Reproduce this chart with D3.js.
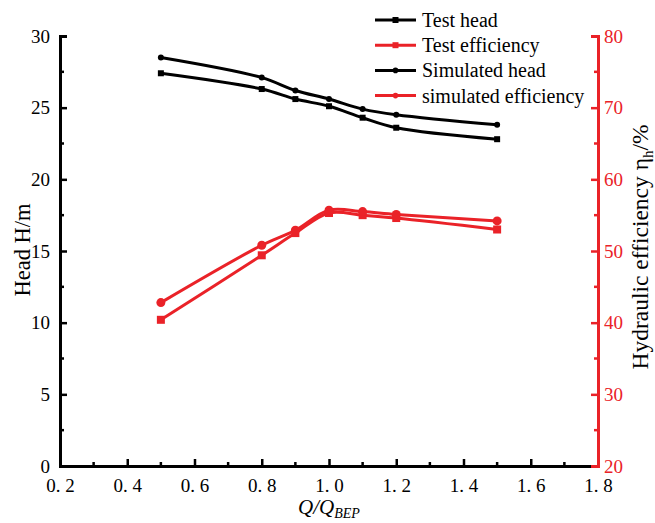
<!DOCTYPE html>
<html>
<head>
<meta charset="utf-8">
<script src="https://cdn.jsdelivr.net/npm/d3@7"></script>
<style>
  body { margin: 0; background: #fff; }
  text { font-family: "Liberation Serif", "Times New Roman", serif; }
</style>
</head>
<body>
<div id="chart"></div>
<script>
// flow ratio Q/Q_BEP
var flow = [0.5, 0.8, 0.9, 1.0, 1.1, 1.2, 1.5];
// head H/m
var test_head = [27.4, 26.3, 25.6, 25.1, 24.3, 23.6, 22.8];
var sim_head = [28.5, 27.1, 26.2, 25.6, 24.9, 24.5, 23.8];
// hydraulic efficiency %
var test_eff = [40.4, 49.4, 52.5, 55.3, 55.0, 54.6, 53.0];
var sim_eff = [42.8, 50.8, 52.9, 55.7, 55.5, 55.1, 54.2];

var x_ticks = [0.2, 0.4, 0.6, 0.8, 1.0, 1.2, 1.4, 1.6, 1.8];
var head_ticks = [0, 5, 10, 15, 20, 25, 30];
var eff_ticks = [20, 30, 40, 50, 60, 70, 80];

var legend_labels = ["Test head", "Test efficiency", "Simulated head", "simulated efficiency"];

var full_width = 655, full_height = 523;
var margin = {top: 36, right: 57, bottom: 57, left: 60};
var width = full_width - margin.left - margin.right,
    height = full_height - margin.top - margin.bottom;

var red = "#ea2228";

var svg = d3.select("#chart")
    .append("svg")
    .attr("width", full_width)
    .attr("height", full_height)
    .append("g")
    .attr("transform", "translate(" + margin.left + "," + margin.top + ")");

var x = d3.scaleLinear().domain([0.2, 1.8]).range([0, width]);
var yH = d3.scaleLinear().domain([0, 30]).range([height, 0]);
var yE = d3.scaleLinear().domain([20, 80]).range([height, 0]);

// minor ticks halfway between majors
function minors(major) {
    var out = [];
    for (var i = 0; i < major.length - 1; i++) out.push((major[i] + major[i + 1]) / 2);
    return out;
}

function styleAxis(g, color) {
    g.select(".domain").attr("stroke", color).attr("stroke-width", 3);
    g.selectAll(".tick line").attr("stroke", color).attr("stroke-width", 2.5);
    g.selectAll(".tick text").attr("fill", color).style("font-size", "19px")
        .style("font-family", "'Liberation Serif', serif");
}

// X axis
var gx = svg.append("g")
    .attr("transform", "translate(0," + height + ")")
    .call(d3.axisBottom(x).tickValues(x_ticks).tickSize(-7).tickPadding(13)
        .tickFormat(function(d) { return d3.format(".1f")(d).replace(".", ". "); }));
styleAxis(gx, "#000");
gx.append("g").selectAll("line").data(minors(x_ticks)).enter().append("line")
    .attr("x1", function(d) { return x(d); }).attr("x2", function(d) { return x(d); })
    .attr("y1", 0).attr("y2", -4).attr("stroke", "#000").attr("stroke-width", 2.5);

// left axis
var gl = svg.append("g")
    .call(d3.axisLeft(yH).tickValues(head_ticks).tickSize(-7).tickPadding(10));
styleAxis(gl, "#000");
gl.append("g").selectAll("line").data(minors(head_ticks)).enter().append("line")
    .attr("y1", function(d) { return yH(d); }).attr("y2", function(d) { return yH(d); })
    .attr("x1", 0).attr("x2", 4).attr("stroke", "#000").attr("stroke-width", 2.5);

// right axis
var gr = svg.append("g")
    .attr("transform", "translate(" + width + ",0)")
    .call(d3.axisRight(yE).tickValues(eff_ticks).tickSize(-7).tickPadding(6));
styleAxis(gr, red);
gr.append("g").selectAll("line").data(minors(eff_ticks)).enter().append("line")
    .attr("y1", function(d) { return yE(d); }).attr("y2", function(d) { return yE(d); })
    .attr("x1", 0).attr("x2", -4).attr("stroke", red).attr("stroke-width", 2.5);

// series
var series = [
    {vals: test_head, y: yH, color: "#000", shape: "square", size: 6},
    {vals: test_eff, y: yE, color: red, shape: "square", size: 8},
    {vals: sim_head, y: yH, color: "#000", shape: "circle", size: 3},
    {vals: sim_eff, y: yE, color: red, shape: "circle", size: 4.5}
];

series.forEach(function(s) {
    var pts = flow.map(function(f, i) { return [f, s.vals[i]]; });
    var line = d3.line()
        .x(function(d) { return x(d[0]); })
        .y(function(d) { return s.y(d[1]); })
        .curve(d3.curveCatmullRom.alpha(0.5));
    svg.append("path")
        .datum(pts)
        .attr("fill", "none")
        .attr("stroke", s.color)
        .attr("stroke-width", 3)
        .attr("d", line);
    if (s.shape == "square") {
        svg.selectAll()
            .data(pts).enter().append("rect")
            .attr("x", function(d) { return x(d[0]) - s.size / 2; })
            .attr("y", function(d) { return s.y(d[1]) - s.size / 2; })
            .attr("width", s.size).attr("height", s.size)
            .attr("fill", s.color);
    } else {
        svg.selectAll()
            .data(pts).enter().append("circle")
            .attr("cx", function(d) { return x(d[0]); })
            .attr("cy", function(d) { return s.y(d[1]); })
            .attr("r", s.size)
            .attr("fill", s.color);
    }
});

// legend
var legend = d3.select("svg").append("g").attr("transform", "translate(375,20)");
legend_labels.forEach(function(lab, i) {
    var s = series[i];
    var g = legend.append("g").attr("transform", "translate(0," + (i * 25.2) + ")");
    g.append("line").attr("x1", 0).attr("x2", 41).attr("y1", 0).attr("y2", 0)
        .attr("stroke", s.color).attr("stroke-width", 3);
    if (s.shape == "square") {
        g.append("rect").attr("x", 20.5 - 3).attr("y", -3).attr("width", 6).attr("height", 6).attr("fill", s.color);
    } else {
        g.append("circle").attr("cx", 20.5).attr("cy", 0).attr("r", 2.8).attr("fill", s.color);
    }
    g.append("text").attr("x", 47).attr("y", 0).attr("dy", "0.35em")
        .style("font-size", "20px").attr("fill", "#000").text(lab);
});

// axis titles
var xl = svg.append("text")
    .attr("x", width / 2).attr("y", height + 48)
    .attr("text-anchor", "middle")
    .style("font-size", "21px").style("font-style", "italic");
xl.append("tspan").text("Q/Q");
xl.append("tspan").attr("dy", 4).style("font-size", "14px").text("BEP");

svg.append("text")
    .attr("transform", "translate(" + (-30) + "," + 214 + ") rotate(-90)")
    .attr("text-anchor", "middle")
    .style("font-size", "22.5px")
    .text("Head H/m");

var rl = svg.append("text")
    .attr("transform", "translate(" + (width + 50) + "," + 211 + ") rotate(-90)")
    .attr("text-anchor", "middle")
    .style("font-size", "23.5px");
rl.append("tspan").text("Hydraulic efficiency \u03b7");
rl.append("tspan").attr("dy", 5).style("font-size", "15px").text("h");
rl.append("tspan").attr("dy", -5).text("/%");
</script>
</body>
</html>
